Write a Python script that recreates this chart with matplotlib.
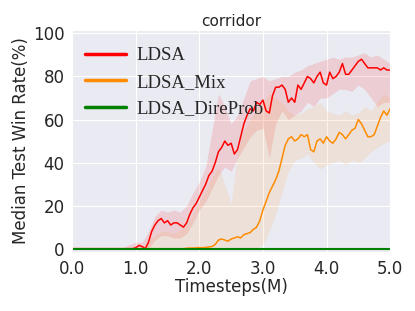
import matplotlib
matplotlib.use("Agg")
import matplotlib.pyplot as plt
import numpy as np
import seaborn as sns

# time axis (million steps)
t_line = np.round(np.arange(0, 5.001, 0.05), 2)
t_band = np.round(np.arange(0, 5.001, 0.1), 2)

# median curves, one value every 0.05M
ldsa = [0]*20 + [0.5, 1.5, 1, 0, 3, 8, 11, 13, 14, 12,
        13, 11, 12, 12, 11, 10, 12, 16, 19, 21,
        24, 27, 30, 34, 36, 40, 45, 47, 50, 48,
        49, 44, 46, 52, 58, 62, 65, 64, 68, 67,
        69, 64, 63, 71, 75, 75, 76, 74, 68, 70,
        68, 76, 74, 77, 80, 79, 77, 80, 82, 77,
        76, 82, 79, 80, 82, 86, 81, 81, 83, 85,
        87, 88, 86, 84, 84, 84, 84, 83, 84, 83, 83]
ldsa_mix = [0]*36 + [0.2, 0.3, 0.3, 0.4,
            0.5, 0.4, 0.6, 0.8, 1, 2, 4, 4.5, 4, 3.5,
            4.5, 5, 5.5, 5, 6.5, 7, 7.5, 9, 10, 13,
            18, 22, 26, 29, 32, 36, 42, 48, 51, 52,
            50, 51, 53, 52, 53, 46, 45, 50, 51, 49,
            52, 50, 49, 51, 54, 53, 51, 53, 55, 56,
            60, 58, 55, 52, 52, 53, 57, 61, 64, 62, 65]
ldsa_dire = [0]*101

# spread around the median, one value every 0.1M
ldsa_lo = [0]*13 + [4, 6, 6, 5, 5, 7, 12, 18, 22, 28, 34, 38, 36, 42, 47, 52, 55,
                    56, 42, 58, 64, 60, 62, 64, 68, 66, 70, 70, 72, 74, 74, 73,
                    76, 74, 70, 66, 68, 68]
ldsa_hi = [0]*8 + [0.5, 2, 3, 3, 8, 15, 18, 17, 18, 17, 20, 26, 31, 38, 55, 72, 66,
                   58, 62, 70, 78, 79, 80, 78, 79, 80, 80, 82, 83, 85, 86, 87, 88,
                   89, 88, 89, 89, 90, 91, 89, 90, 88, 86]
mix_lo = [0]*30 + [2, 8, 16, 26, 36, 41, 42, 44, 40, 37, 39, 40, 41, 39, 41, 40,
                   42, 45, 47, 49, 50]
mix_hi = [0]*11 + [1, 4, 6, 8, 8, 7, 9, 11, 16, 22, 27, 33, 38, 30, 21, 45, 55, 60,
                   65, 68, 72, 70, 68, 64, 62, 63, 65, 66, 68, 64, 63, 62, 64, 62,
                   63, 66, 64, 68, 72, 70]

sns.set_style("darkgrid")
plt.rcParams['font.family'] = ['DejaVu Sans']

fig = plt.figure(figsize=(4.15, 3.11), dpi=100)
ax = fig.add_axes([0.174, 0.19, 0.766, 0.713])

ax.fill_between(t_band, ldsa_lo, ldsa_hi, color='red', alpha=0.12, lw=0)
ax.fill_between(t_band, mix_lo, mix_hi, color='darkorange', alpha=0.1, lw=0)
ax.plot(t_line, ldsa, color='red', lw=1.1, label='LDSA')
ax.plot(t_line, ldsa_mix, color='darkorange', lw=1.1, label='LDSA_Mix')
ax.plot(t_line, ldsa_dire, color='green', lw=1.5, label='LDSA_DireProb')

ax.set_xlim(0, 5)
ax.set_ylim(-1.5, 101.5)
ax.set_xticks([0, 1, 2, 3, 4, 5])
ax.set_xticklabels(['0.0', '1.0', '2.0', '3.0', '4.0', '5.0'])
ax.set_yticks([0, 20, 40, 60, 80, 100])
ax.tick_params(labelsize=12, pad=2)
ax.set_xlabel('Timesteps(M)', fontsize=12, labelpad=0)
ax.set_ylabel('Median Test Win Rate(%)', fontsize=12, labelpad=2)
ax.set_title('corridor', fontsize=11, pad=3)

leg = ax.legend(loc='upper left', bbox_to_anchor=(-0.013, 1.0), frameon=False,
                prop={'family': 'Liberation Serif', 'size': 13.5},
                handlelength=2.2, handletextpad=0.55, borderaxespad=0.5, labelspacing=0.5)
for h in leg.get_lines():
    h.set_linewidth(2.5)

fig.savefig('out.png', dpi=100)
